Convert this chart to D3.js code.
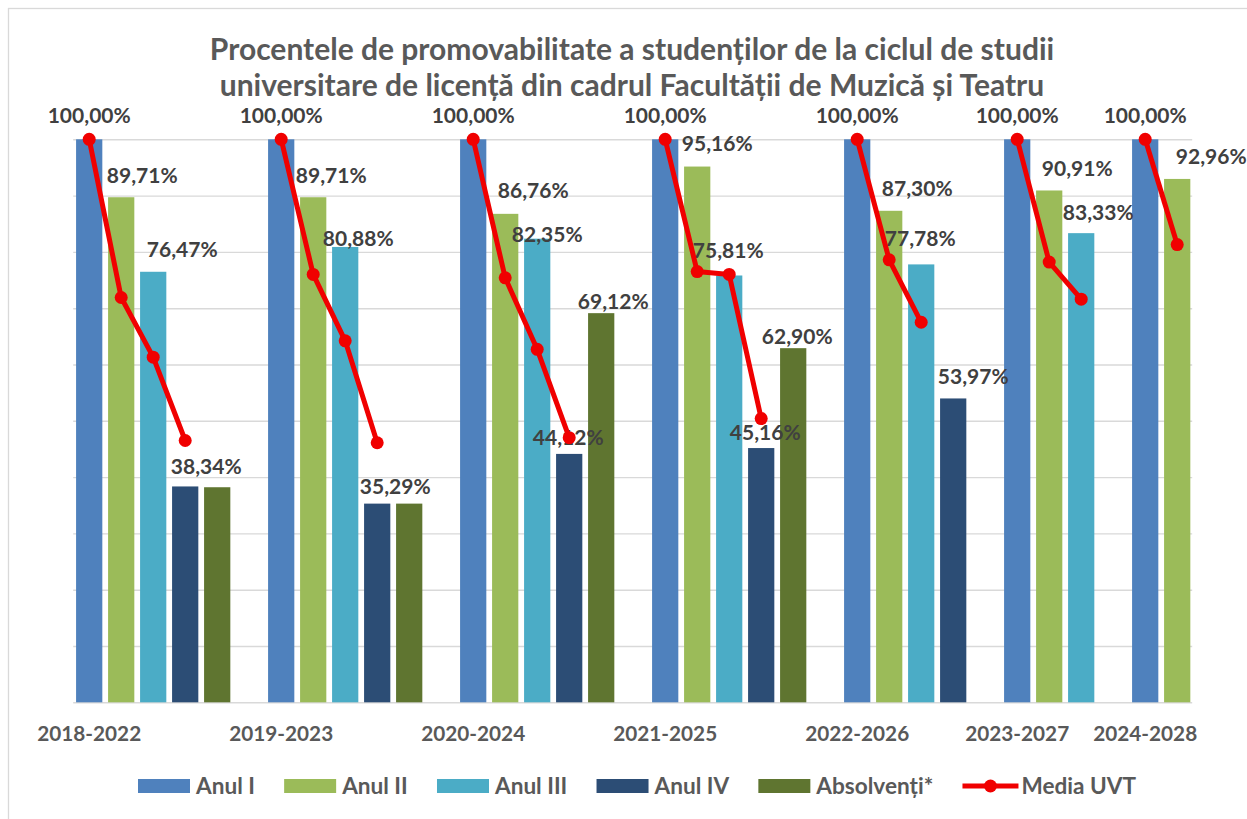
<!DOCTYPE html>
<html><head><meta charset="utf-8">
<script src="https://cdn.jsdelivr.net/npm/d3@7"></script>
<style>
body{margin:0;background:#fff}
svg{display:block}
text{font-family:Lato,"Open Sans","DejaVu Sans",sans-serif;font-weight:700}
</style>
</head><body>
<svg id="c" width="1247" height="819"></svg>
<script>
// ---------------- DATA ----------------
const titleLines = [
  "Procentele de promovabilitate a studenților de la ciclul de studii",
  "universitare de licență din cadrul Facultății de Muzică și Teatru"
];
const periods = ["2018-2022","2019-2023","2020-2024","2021-2025","2022-2026","2023-2027","2024-2028"];
const seriesNames = ["Anul I","Anul II","Anul III","Anul IV","Absolvenți*"];
const anulI      = [100, 100, 100, 100, 100, 100, 100];
const anulII     = [89.71, 89.71, 86.76, 95.16, 87.30, 90.91, 92.96];
const anulIII    = [76.47, 80.88, 82.35, 75.81, 77.78, 83.33, null];
const anulIV     = [38.34, 35.29, 44.12, 45.16, 53.97, null, null];
const absolventi = [38.20, 35.29, 69.12, 62.90, null, null, null];
const mediaUVT = [
  [100, 71.9, 61.3, 46.5],
  [100, 76.0, 64.2, 46.1],
  [100, 75.4, 62.7, 47.0],
  [100, 76.5, 76.0, 50.4],
  [100, 78.6, 67.5],
  [100, 78.2, 71.6],
  [100, 81.3]
];
const lineName = "Media UVT";
const yTicks = [0,10,20,30,40,50,60,70,80,90,100];

// ---------------- STYLE ----------------
const seriesColors = ["#4F81BD","#9BBB59","#4BACC6","#2C4D75","#5F7530"];
const lineColor = "#F00000";
// data-label nudges [dx, dy] in px from default placement (null = label not shown)
const labelNudge = [
  [[0,-2],[0,-2],[0,-2],[0,-2],[0,-2],[0,-2],[0,-2]],
  [[21,0],[18,0],[28,-1],[20,-1],[28,0],[28,0],[34,0]],
  [[29,0],[13,13],[10,18],[-1,-3],[-1,-4],[17,1],null],
  [[21,2],[18,5],[-1,6],[4,6],[20,0],null,null],
  [null,null,[12,10],[4,10],null,null,null]
];

const seriesValues = [anulI, anulII, anulIII, anulIV, absolventi];

const svg = d3.select("#c");
const W = 1247, H = 819;
svg.append("rect").attr("x",8.5).attr("y",8.5).attr("width",W+20).attr("height",H+20)
  .attr("fill","#fff").attr("stroke","#D9D9D9").attr("stroke-width",1.3);

function fitSize(str, target, base){
  const t = svg.append("text").style("font-size", base+"px").text(str);
  const w = t.node().getComputedTextLength();
  t.remove();
  return base * target / w;
}

// ---------------- SLOTS ----------------
const slots = []; // {g, s, v, slot}
const groupStart = [];
let cur = 0;
periods.forEach((p, g) => {
  groupStart.push(cur);
  let n = 0;
  seriesValues.forEach((arr, s) => {
    if (arr[g] != null) { slots.push({g, s, v: arr[g], slot: cur + n}); n++; }
  });
  cur += n + (g < periods.length - 1 ? 1 : 0);
});
const nSlots = cur;

const pLeft = 73.2, pRight = 1193.2, pTop = 139.3, pBottom = 702.3;
const x = d3.scaleBand().domain(d3.range(nSlots)).range([pLeft, pRight])
  .paddingInner(0.18).paddingOuter(0.09);
const y = d3.scaleLinear().domain([0, 100]).range([pBottom, pTop]);
const bw = x.bandwidth();

// ---------------- GRID ----------------
const grid = svg.append("g").attr("transform", `translate(${pLeft},0)`)
  .call(d3.axisLeft(y).tickValues(yTicks.filter(v => v > 0)).tickSize(-(pRight - pLeft - 1)).tickFormat(""));
grid.select(".domain").remove();
grid.selectAll(".tick line").attr("stroke", "#D9D9D9").attr("stroke-width", 1.4);

// ---------------- X AXIS ----------------
const xlabFs = fitSize("2018-2022", 104, 20);
const xAxis = svg.append("g").attr("transform", `translate(0,${pBottom})`)
  .call(d3.axisBottom(x).tickValues(groupStart).tickSize(0).tickSizeOuter(0)
    .tickFormat((d) => periods[groupStart.indexOf(d)]));
xAxis.select(".domain").attr("stroke", "#D9D9D9").attr("stroke-width", 1.6)
  .attr("d", `M${pLeft},0.5H${pRight - 1}`);
xAxis.selectAll(".tick text").attr("y", 31).attr("dy", (0.36*xlabFs)+"px")
  .attr("fill", "#595959").attr("font-family", null).attr("font-size", null)
  .style("font-size", xlabFs + "px");

// ---------------- BARS ----------------
svg.append("g").selectAll("rect").data(slots).join("rect")
  .attr("x", d => x(d.slot)).attr("width", bw)
  .attr("y", d => y(d.v)).attr("height", d => y(0) - y(d.v))
  .attr("fill", d => seriesColors[d.s]);

// ---------------- DATA LABELS ----------------
const lblFs = fitSize("100,00%", 83, 20);
const fmt = v => v.toFixed(2).replace(".", ",") + "%";
svg.append("g").selectAll("text").data(slots.filter(d => labelNudge[d.s][d.g])).join("text")
  .attr("text-anchor", "middle")
  .attr("x", d => x(d.slot) + bw/2 + labelNudge[d.s][d.g][0])
  .attr("y", d => y(d.v) - 22 + labelNudge[d.s][d.g][1] + 0.36*lblFs)
  .attr("fill", "#404040").style("font-size", lblFs + "px")
  .text(d => fmt(d.v));

// ---------------- LINE ----------------
const line = d3.line().x(d => x(d.slot) + bw/2).y(d => y(d.v));
const linePts = mediaUVT.map((arr, g) => arr.map((v, k) => ({v, slot: groupStart[g] + k})));
const lg = svg.append("g");
lg.selectAll("path").data(linePts).join("path")
  .attr("d", line).attr("fill", "none").attr("stroke", lineColor)
  .attr("stroke-width", 5).attr("stroke-linejoin", "round");
lg.selectAll("circle").data(linePts.flat()).join("circle")
  .attr("cx", d => x(d.slot) + bw/2).attr("cy", d => y(d.v)).attr("r", 6.5)
  .attr("fill", lineColor);

// ---------------- TITLE ----------------
const tFs = fitSize(titleLines[0], 845, 28);
svg.append("g").selectAll("text").data(titleLines).join("text")
  .attr("x", 632).attr("y", (d, i) => 60 + i*36).attr("text-anchor", "middle")
  .attr("fill", "#595959").style("font-size", tFs + "px").text(d => d);

// ---------------- LEGEND ----------------
const legFs = fitSize("Absolvenți*", 117, 20);
const items = seriesNames.map((n, i) => ({name: n, color: seriesColors[i], type: "rect"}))
  .concat([{name: lineName, color: lineColor, type: "line"}]);
const leg = svg.append("g");
const ly = 786;
const legStart = 138, legEnd = 1136;
const built = items.map(it => {
  const sw = it.type === "rect" ? 52 : 56;
  const g = leg.append("g");
  if (it.type === "rect") {
    g.append("rect").attr("y", ly - 7).attr("width", sw).attr("height", 14).attr("fill", it.color);
  } else {
    g.append("line").attr("x1", 0).attr("x2", sw).attr("y1", ly).attr("y2", ly)
      .attr("stroke", it.color).attr("stroke-width", 5);
    g.append("circle").attr("cx", sw/2).attr("cy", ly).attr("r", 6.5).attr("fill", it.color);
  }
  const gap = it.type === "rect" ? 6 : 3;
  const t = g.append("text").attr("x", sw + gap).attr("y", ly + 0.36*legFs)
    .attr("fill", "#595959").style("font-size", legFs + "px").text(it.name);
  return {g, w: sw + gap + t.node().getComputedTextLength()};
});
const totalW = d3.sum(built, b => b.w);
const spacing = (legEnd - legStart - totalW) / (built.length - 1);
let lx = legStart;
built.forEach(b => { b.g.attr("transform", `translate(${lx},0)`); lx += b.w + spacing; });
</script>
</body></html>
